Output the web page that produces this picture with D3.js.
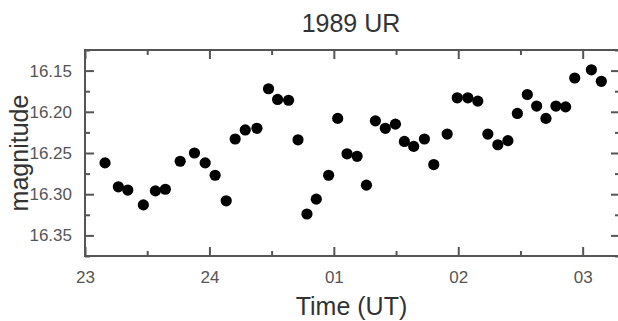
<!DOCTYPE html>
<html>
<head>
<meta charset="utf-8">
<script src="https://cdn.jsdelivr.net/npm/d3@7"></script>
<style>
  html, body { margin: 0; padding: 0; background: #fff; }
  svg { display: block; }
</style>
</head>
<body>
<svg id="chart" width="618" height="321"></svg>
<script>
// ---- data (time in hours UT, continuing past 24; magnitude) ----
const times = [23.161, 23.268, 23.344, 23.469, 23.566, 23.646, 23.765, 23.880, 23.966, 24.046,
  24.135, 24.207, 24.288, 24.382, 24.475, 24.548, 24.636, 24.712, 24.784, 24.859,
  24.958, 25.031, 25.106, 25.187, 25.262, 25.334, 25.414, 25.495, 25.567, 25.642,
  25.728, 25.803, 25.911, 25.992, 26.077, 26.157, 26.238, 26.318, 26.399, 26.475,
  26.555, 26.630, 26.705, 26.785, 26.863, 26.936, 27.070, 27.150];
const magnitudes = [16.262, 16.291, 16.295, 16.313, 16.296, 16.294, 16.260, 16.250, 16.262, 16.277,
  16.308, 16.233, 16.222, 16.220, 16.172, 16.185, 16.186, 16.234, 16.324, 16.306,
  16.277, 16.208, 16.251, 16.254, 16.289, 16.211, 16.220, 16.215, 16.236, 16.242,
  16.233, 16.264, 16.227, 16.183, 16.183, 16.187, 16.227, 16.240, 16.235, 16.202,
  16.179, 16.193, 16.208, 16.193, 16.194, 16.159, 16.149, 16.163];
const xTickValues = [23, 24, 25, 26, 27];
const xTickLabels = ["23", "24", "01", "02", "03"];
const xMinorTicks = [23.5, 24.5, 25.5, 26.5, 27.5];
const yTickValues = [16.15, 16.20, 16.25, 16.30, 16.35];
const yTickLabels = ["16.15", "16.20", "16.25", "16.30", "16.35"];
const yMinorTicks = [16.125, 16.175, 16.225, 16.275, 16.325, 16.375];

const svg = d3.select("#chart");
const L = 85, T = 50, R = 620, B = 256;
const x = d3.scaleLinear().domain([23, 27.3]).range([L, R]);
const y = d3.scaleLinear().domain([16.125, 16.375]).range([T, B]);

const frameColor = "#555";
const labelFont = "'Liberation Sans', Arial, sans-serif";

// major / minor ticks, inward on all four sides
function styleAxis(g) {
  g.select(".domain").remove();
  g.selectAll(".tick line").attr("stroke", frameColor).attr("stroke-width", 2);
  g.selectAll(".tick text").attr("fill", "#555").attr("font-family", labelFont).attr("font-size", 17);
}
// bottom
svg.append("g").attr("transform", `translate(0,${B})`)
  .call(d3.axisBottom(x).tickValues(xTickValues).tickSize(-9).tickPadding(15)
    .tickFormat((d, i) => xTickLabels[i]))
  .call(styleAxis);
svg.append("g").attr("transform", `translate(0,${B})`)
  .call(d3.axisBottom(x).tickValues(xMinorTicks).tickSize(-5).tickFormat(""))
  .call(styleAxis);
// top
svg.append("g").attr("transform", `translate(0,${T})`)
  .call(d3.axisTop(x).tickValues(xTickValues).tickSize(-9).tickFormat(""))
  .call(styleAxis);
svg.append("g").attr("transform", `translate(0,${T})`)
  .call(d3.axisTop(x).tickValues(xMinorTicks).tickSize(-5).tickFormat(""))
  .call(styleAxis);
// left
svg.append("g").attr("transform", `translate(${L},0)`)
  .call(d3.axisLeft(y).tickValues(yTickValues).tickSize(-9).tickPadding(13)
    .tickFormat((d, i) => yTickLabels[i]))
  .call(styleAxis);
svg.append("g").attr("transform", `translate(${L},0)`)
  .call(d3.axisLeft(y).tickValues(yMinorTicks).tickSize(-5).tickFormat(""))
  .call(styleAxis);
// right
svg.append("g").attr("transform", `translate(${R},0)`)
  .call(d3.axisRight(y).tickValues(yTickValues).tickSize(-9).tickFormat(""))
  .call(styleAxis);
svg.append("g").attr("transform", `translate(${R},0)`)
  .call(d3.axisRight(y).tickValues(yMinorTicks).tickSize(-5).tickFormat(""))
  .call(styleAxis);

// frame
svg.append("rect").attr("x", L).attr("y", T).attr("width", R - L).attr("height", B - T)
  .attr("fill", "none").attr("stroke", frameColor).attr("stroke-width", 2);

// points
svg.append("g").selectAll("circle")
  .data(times.map((t, i) => [t, magnitudes[i]]))
  .join("circle")
  .attr("cx", d => x(d[0]))
  .attr("cy", d => y(d[1]))
  .attr("r", 5.6)
  .attr("fill", "#000");

// title and axis labels
svg.append("text").attr("x", 351).attr("y", 32).attr("text-anchor", "middle")
  .attr("font-family", labelFont).attr("font-size", 25).attr("fill", "#333").text("1989 UR");
svg.append("text").attr("x", 351.5).attr("y", 315).attr("text-anchor", "middle")
  .attr("font-family", labelFont).attr("font-size", 25).attr("fill", "#333").text("Time (UT)");
svg.append("text").attr("transform", `translate(28,${(T + B) / 2}) rotate(-90)`)
  .attr("text-anchor", "middle")
  .attr("font-family", labelFont).attr("font-size", 25).attr("fill", "#333").text("magnitude");
</script>
</body>
</html>
